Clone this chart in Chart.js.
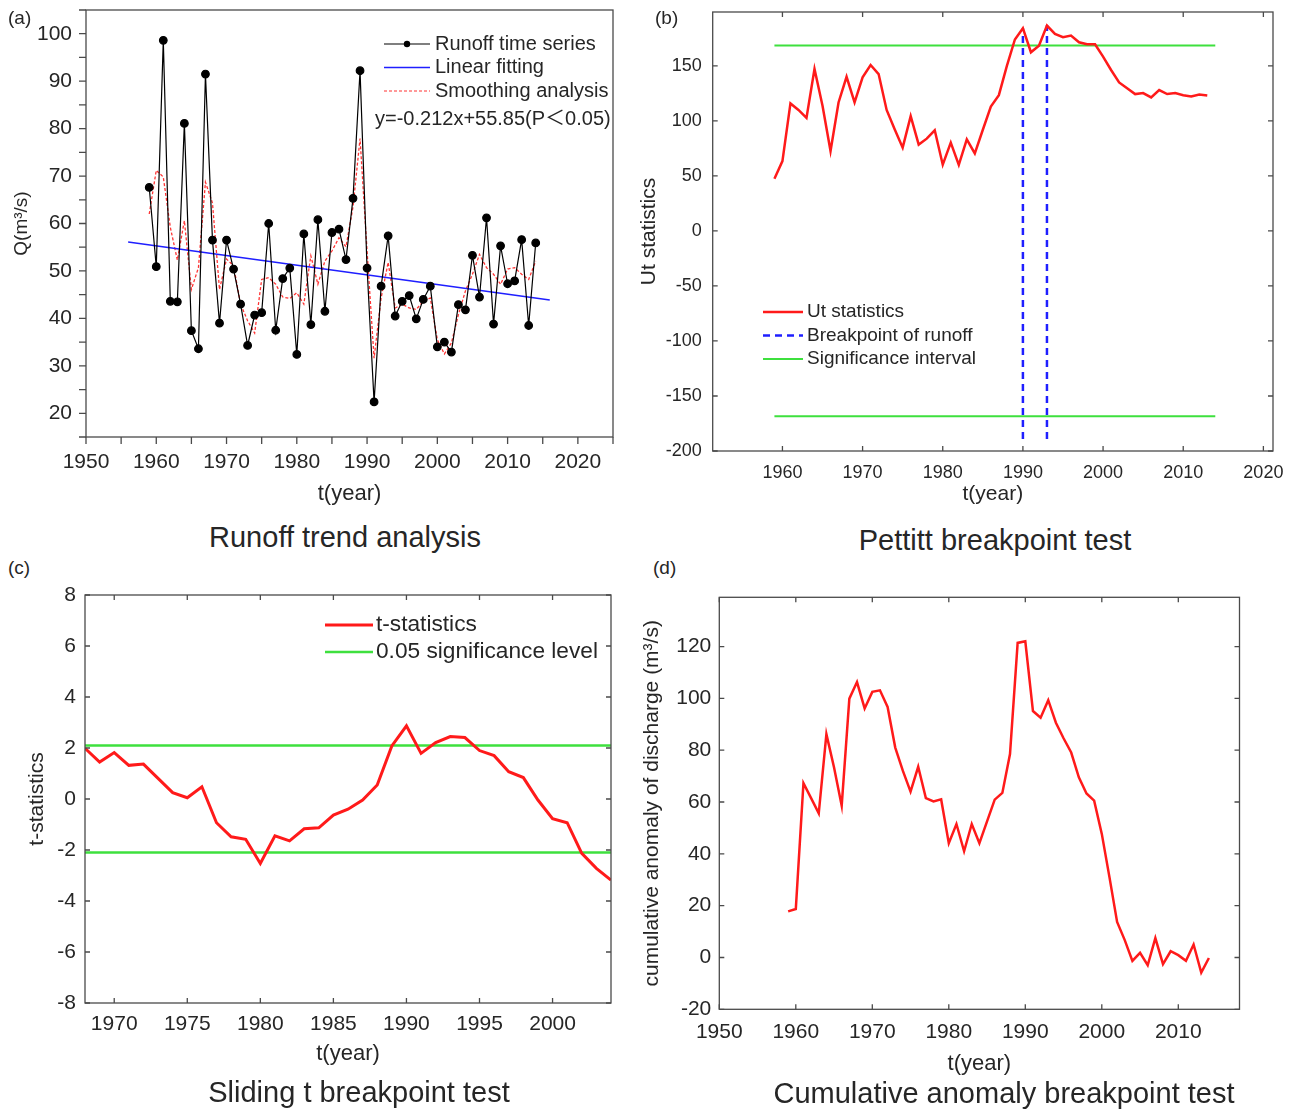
<!DOCTYPE html>
<html>
<head>
<meta charset="utf-8">
<script src="https://cdn.jsdelivr.net/npm/chart.js@4.4.1/dist/chart.umd.min.js"></script>
<style>
body { margin: 0; background: #fff; }
#page { position: relative; width: 1293px; height: 1109px; overflow: hidden;
        font-family: 'Liberation Sans', Arial, sans-serif; color: #262626; }
canvas { position: absolute; }
.tag { position: absolute; font-size: 19px; line-height: 20px; }
.cap { position: absolute; font-size: 29px; line-height: 30px; transform: translateX(-50%); white-space: nowrap; }
</style>
</head>
<body>
<div id="page">
  <canvas id="runoffChart" width="640" height="515" style="left:0;top:0"></canvas>
  <canvas id="pettittChart" width="663" height="515" style="left:630px;top:0"></canvas>
  <canvas id="slidingChart" width="640" height="500" style="left:0;top:580px"></canvas>
  <canvas id="anomalyChart" width="663" height="500" style="left:630px;top:580px"></canvas>

  <div class="tag" style="left:8px;top:8px">(a)</div>
  <div class="tag" style="left:655px;top:8px">(b)</div>
  <div class="tag" style="left:8px;top:558px">(c)</div>
  <div class="tag" style="left:653px;top:558px">(d)</div>

  <div class="cap" style="left:345px;top:522px">Runoff trend analysis</div>
  <div class="cap" style="left:995px;top:525px">Pettitt breakpoint test</div>
  <div class="cap" style="left:359px;top:1077px">Sliding t breakpoint test</div>
  <div class="cap" style="left:1004px;top:1078px">Cumulative anomaly breakpoint test</div>
</div>

<script>
// ---- data ----
var years = [1959, 1960, 1961, 1962, 1963, 1964, 1965, 1966, 1967, 1968,
             1969, 1970, 1971, 1972, 1973, 1974, 1975, 1976, 1977, 1978,
             1979, 1980, 1981, 1982, 1983, 1984, 1985, 1986, 1987, 1988,
             1989, 1990, 1991, 1992, 1993, 1994, 1995, 1996, 1997, 1998,
             1999, 2000, 2001, 2002, 2003, 2004, 2005, 2006, 2007, 2008,
             2009, 2010, 2011, 2012, 2013, 2014];

// (a) runoff Q (m3/s)
var runoff = [67.6, 50.9, 98.6, 43.6, 43.5, 81.1, 37.4, 33.6, 91.5, 56.5,
              39.0, 56.5, 50.4, 43.0, 34.3, 40.7, 41.2, 60.0, 37.5, 48.4,
              50.6, 32.4, 57.8, 38.7, 60.8, 41.5, 58.1, 58.8, 52.4, 65.3,
              92.2, 50.6, 22.4, 46.8, 57.4, 40.5, 43.6, 44.8, 39.9, 44.0,
              46.8, 34.0, 35.0, 32.9, 42.9, 41.8, 53.3, 44.5, 61.2, 38.8,
              55.3, 47.3, 47.9, 56.6, 38.5, 55.9];
var smoothed = [62.0, 71.2, 69.8, 59.2, 52.3, 60.6, 46.1, 50.7, 68.7, 64.3,
                46.1, 52.5, 51.1, 43.0, 39.5, 36.9, 48.2, 48.6, 47.2, 44.5,
                44.2, 45.4, 43.0, 53.2, 47.2, 52.1, 54.2, 57.0, 55.1, 63.5,
                77.9, 54.2, 31.6, 44.3, 51.8, 42.2, 43.0, 42.2, 41.9, 43.6,
                44.3, 35.5, 32.5, 34.8, 40.8, 45.8, 49.3, 53.5, 50.7, 49.3,
                47.2, 50.4, 50.7, 49.3, 48.2, 52.1];
var fitYears = [1956, 2016];
var fitValues = [56.1, 43.9];

// (b) Pettitt Ut statistic, 1959-2013
var utYears = years.slice(0, 55);
var utValues = [47.4, 63.5, 115.9, 110, 102.7, 147.2, 113.7, 72.6, 116.8, 140.1,
                116.8, 139.6, 150.8, 142.6, 110, 92.4, 75.7, 104.3, 78.5, 83.9,
                91.5, 60.2, 80.3, 60.0, 83.3, 70.5, 92, 113.1, 123.4, 150,
                174, 184.3, 162.4, 168.4, 186.7, 179.1, 176.1, 177.6, 171.5, 169.7,
                169.7, 158.4, 146.3, 135, 129.6, 124.4, 125.3, 121.4, 128, 124.4,
                125.3, 123.4, 122.2, 124, 123.1];
var breakYears = [1990, 1993];
var breakTops = [184, 187];
var breakBottom = -189;
var sigYearsB = [1959, 2014];
var sigUt = 168.5;

// (c) sliding t statistic, 1968-2004
var tYears = [1968, 1969, 1970, 1971, 1972, 1973, 1974, 1975, 1976, 1977,
              1978, 1979, 1980, 1981, 1982, 1983, 1984, 1985, 1986, 1987,
              1988, 1989, 1990, 1991, 1992, 1993, 1994, 1995, 1996, 1997,
              1998, 1999, 2000, 2001, 2002, 2003, 2004];
var tValues = [1.99, 1.45, 1.82, 1.32, 1.37, 0.81, 0.25, 0.05, 0.48, -0.93,
               -1.48, -1.58, -2.53, -1.44, -1.64, -1.17, -1.13, -0.63, -0.4, -0.04,
               0.55, 2.08, 2.87, 1.79, 2.21, 2.45, 2.41, 1.9, 1.7, 1.07,
               0.84, -0.04, -0.77, -0.93, -2.13, -2.72, -3.18];
var sigT = 2.101;

// (d) cumulative anomaly
var anomaly = [17.8, 18.7, 67.3, 61.5, 55.6, 86.2, 73.3, 58.6, 99.9, 106.3,
               96.1, 102.5, 103.1, 96.7, 81, 72, 64, 73.6, 61.5, 60.2,
               61, 44.1, 51.5, 41, 51.5, 44.1, 52.5, 60.9, 63.5, 78.5,
               121.4, 122, 95.1, 92.5, 99.3, 90.6, 84.6, 79.1, 69.5, 63.3,
               60.5, 47.7, 31, 13.7, 6.7, -1.3, 1.8, -3, 7.5, -2.6,
               2.4, 0.9, -1.3, 5, -5.8, -0.2];

// ---- helpers ----
var FONT = "'Liberation Sans', Arial, 'Noto Sans CJK SC', sans-serif";
var RED = '#ff1a1a', GREEN = '#3ee03e', BLUE = '#1f1fff';
Chart.defaults.font.family = FONT;
Chart.defaults.color = '#262626';
Chart.defaults.animation = false;

function pairs(xs, ys) {
    return xs.map(function (x, i) { return { x: x, y: ys[i] }; });
}
function flat(xs, v) {
    return xs.map(function (x) { return { x: x, y: v }; });
}

// tick positions: every multiple of step inside [min, max]
function stepTicks(min, max, step) {
    return function (s) {
        var list = [];
        for (var k = Math.ceil(min / step - 1e-9); k * step <= max + 1e-9; k++) {
            list.push({ value: k * step });
        }
        s.ticks = list;
    };
}
function noPad(s) {
    s.paddingTop = 0; s.paddingBottom = 0; s.paddingLeft = 0; s.paddingRight = 0;
}

function xScale(c) {
    return {
        type: 'linear', position: 'bottom', min: c.min, max: c.max,
        grid: { display: false, drawTicks: false }, border: { display: false },
        ticks: {
            autoSkip: false, maxRotation: 0, padding: c.pad, font: { size: c.size },
            callback: function (v) { return v % c.every === 0 ? String(v) : ''; }
        },
        title: { display: true, text: 't(year)', font: { size: c.tsize }, padding: { top: 0, bottom: c.tpad } },
        afterBuildTicks: stepTicks(c.min, c.max, c.step),
        afterFit: function (s) { s.height = c.h; noPad(s); }
    };
}
function yScale(c) {
    return {
        type: 'linear', position: 'left', min: c.min, max: c.max,
        grid: { display: false, drawTicks: false }, border: { display: false },
        ticks: {
            autoSkip: false, padding: c.pad, font: { size: c.size },
            callback: function (v) { return v % c.every === 0 ? String(v) : ''; }
        },
        title: { display: true, text: c.title, font: { size: c.tsize }, padding: { top: c.tpad, bottom: 0 } },
        afterBuildTicks: stepTicks(c.min, c.max, c.step),
        afterFit: function (s) { s.width = c.w; noPad(s); }
    };
}

// box around the plot and the small tick marks (inward when len > 0)
var framePlugin = {
    id: 'frame',
    afterDraw: function (chart, args, o) {
        var ctx = chart.ctx, a = chart.chartArea, sx = chart.scales.x, sy = chart.scales.y;
        var len = o.len;
        ctx.save();
        ctx.strokeStyle = '#4a4a4a';
        ctx.lineWidth = 1.3;
        ctx.strokeRect(a.left, a.top, a.right - a.left, a.bottom - a.top);
        ctx.beginPath();
        sx.ticks.forEach(function (t) {
            var p = sx.getPixelForValue(t.value);
            ctx.moveTo(p, a.bottom); ctx.lineTo(p, a.bottom - len);
            if (o.mirror) { ctx.moveTo(p, a.top); ctx.lineTo(p, a.top + len); }
        });
        sy.ticks.forEach(function (t) {
            var p = sy.getPixelForValue(t.value);
            ctx.moveTo(a.left, p); ctx.lineTo(a.left + len, p);
            if (o.mirror) { ctx.moveTo(a.right, p); ctx.lineTo(a.right - len, p); }
        });
        ctx.stroke();
        ctx.restore();
    }
};

// legend drawn inside the plot, as in the original figure
var keyPlugin = {
    id: 'keys',
    afterDraw: function (chart, args, o) {
        if (!o.items) return;
        var ctx = chart.ctx;
        ctx.save();
        ctx.font = o.size + 'px ' + FONT;
        ctx.textBaseline = 'middle';
        o.items.forEach(function (it, i) {
            var y = o.y + i * o.gap;
            ctx.strokeStyle = it.color;
            ctx.lineWidth = it.width;
            ctx.setLineDash(it.dash ? it.dash : []);
            ctx.beginPath(); ctx.moveTo(o.x, y); ctx.lineTo(o.x + o.len, y); ctx.stroke();
            ctx.setLineDash([]);
            if (it.dot) {
                ctx.fillStyle = it.color;
                ctx.beginPath(); ctx.arc(o.x + o.len / 2, y, 3.2, 0, Math.PI * 2); ctx.fill();
            }
            ctx.fillStyle = '#262626';
            ctx.fillText(it.text, o.x + o.len + o.tgap, y);
        });
        if (o.note) ctx.fillText(o.note, o.noteX, o.noteY);
        ctx.restore();
    }
};
Chart.register(framePlugin, keyPlugin);

function lineSet(data, color, width, dash) {
    return { data: data, borderColor: color, backgroundColor: color, borderWidth: width,
             borderDash: dash || [], pointRadius: 0, tension: 0, fill: false };
}
var baseOpts = { responsive: false, devicePixelRatio: 1, animation: false, events: [] };

// ---- (a) runoff trend ----
var runoffSet = lineSet(pairs(years, runoff), '#000', 1.2);
runoffSet.pointRadius = 3.8;
runoffSet.pointBackgroundColor = '#000';
new Chart(document.getElementById('runoffChart'), {
    type: 'line',
    data: { datasets: [
        runoffSet,
        lineSet(pairs(fitYears, fitValues), BLUE, 1.5),
        lineSet(pairs(years, smoothed), '#ff3333', 1.3, [3, 2])
    ] },
    options: Object.assign({}, baseOpts, {
        layout: { padding: { left: 0, right: 27, top: 10, bottom: 0 } },
        scales: {
            x: xScale({ min: 1950, max: 2025, step: 5, every: 10, size: 21, pad: 13, tsize: 22, tpad: 8, h: 78 }),
            y: yScale({ min: 15, max: 105, step: 5, every: 10, size: 21, pad: 14, title: 'Q(m³/s)', tsize: 19, tpad: 10, w: 86 })
        },
        plugins: {
            legend: { display: false }, tooltip: { enabled: false },
            frame: { len: -7, mirror: false },
            keys: {
                x: 384, y: 44, gap: 23.5, len: 46, tgap: 5, size: 20,
                items: [
                    { text: 'Runoff time series', color: '#000', width: 1.2, dot: true },
                    { text: 'Linear fitting', color: BLUE, width: 1.5 },
                    { text: 'Smoothing analysis', color: '#ff3333', width: 1.1, dash: [3, 2] }
                ],
                note: 'y=-0.212x+55.85(P\uFF1C0.05)', noteX: 375, noteY: 119
            }
        }
    })
});

// ---- (b) Pettitt ----
var pettittSets = [lineSet(pairs(utYears, utValues), RED, 2.5)];
breakYears.forEach(function (yr, i) {
    pettittSets.push(lineSet([{ x: yr, y: breakBottom }, { x: yr, y: breakTops[i] }], BLUE, 2.5, [7, 5]));
});
pettittSets.push(lineSet(flat(sigYearsB, sigUt), GREEN, 2));
pettittSets.push(lineSet(flat(sigYearsB, -sigUt), GREEN, 2));
new Chart(document.getElementById('pettittChart'), {
    type: 'line',
    data: { datasets: pettittSets },
    options: Object.assign({}, baseOpts, {
        layout: { padding: { left: 0, right: 20, top: 12, bottom: 0 } },
        scales: {
            x: xScale({ min: 1951.3, max: 2021.2, step: 10, every: 10, size: 18, pad: 11, tsize: 21, tpad: 8, h: 64 }),
            y: yScale({ min: -200, max: 199, step: 50, every: 50, size: 18, pad: 11, title: 'Ut statistics', tsize: 21, tpad: 7, w: 82.7 })
        },
        plugins: {
            legend: { display: false }, tooltip: { enabled: false },
            frame: { len: 5, mirror: true },
            keys: {
                x: 133, y: 312, gap: 23.5, len: 40, tgap: 4, size: 19,
                items: [
                    { text: 'Ut statistics', color: RED, width: 2.5 },
                    { text: 'Breakpoint of runoff', color: BLUE, width: 2.5, dash: [7, 5] },
                    { text: 'Significance interval', color: GREEN, width: 2 }
                ]
            }
        }
    })
});

// ---- (c) sliding t ----
var tSpan = [tYears[0], tYears[tYears.length - 1]];
new Chart(document.getElementById('slidingChart'), {
    type: 'line',
    data: { datasets: [
        lineSet(pairs(tYears, tValues), RED, 3),
        lineSet(flat(tSpan, sigT), GREEN, 2.5),
        lineSet(flat(tSpan, -sigT), GREEN, 2.5)
    ] },
    options: Object.assign({}, baseOpts, {
        layout: { padding: { left: 0, right: 29, top: 15, bottom: 0 } },
        scales: {
            x: xScale({ min: 1968, max: 2004, step: 5, every: 5, size: 21, pad: 9, tsize: 22, tpad: 13, h: 77 }),
            y: yScale({ min: -8, max: 8, step: 2, every: 2, size: 21, pad: 9, title: 't-statistics', tsize: 21, tpad: 25, w: 85 })
        },
        plugins: {
            legend: { display: false }, tooltip: { enabled: false },
            frame: { len: 5, mirror: true },
            keys: {
                x: 325, y: 45, gap: 27, len: 48, tgap: 3, size: 22.7,
                items: [
                    { text: 't-statistics', color: RED, width: 3 },
                    { text: '0.05 significance level', color: GREEN, width: 2.5 }
                ]
            }
        }
    })
});

// ---- (d) cumulative anomaly ----
new Chart(document.getElementById('anomalyChart'), {
    type: 'line',
    data: { datasets: [lineSet(pairs(years, anomaly), RED, 2.5)] },
    options: Object.assign({}, baseOpts, {
        layout: { padding: { left: 0, right: 53.5, top: 17.3, bottom: 0 } },
        scales: {
            x: xScale({ min: 1950, max: 2018, step: 10, every: 10, size: 21, pad: 10, tsize: 22, tpad: 3, h: 70.7 }),
            y: yScale({ min: -20, max: 139, step: 20, every: 20, size: 21, pad: 8,
                        title: 'cumulative anomaly of discharge (m³/s)', tsize: 21, tpad: 10, w: 89.3 })
        },
        plugins: {
            legend: { display: false }, tooltip: { enabled: false },
            frame: { len: 5, mirror: true }
        }
    })
});
</script>
</body>
</html>
